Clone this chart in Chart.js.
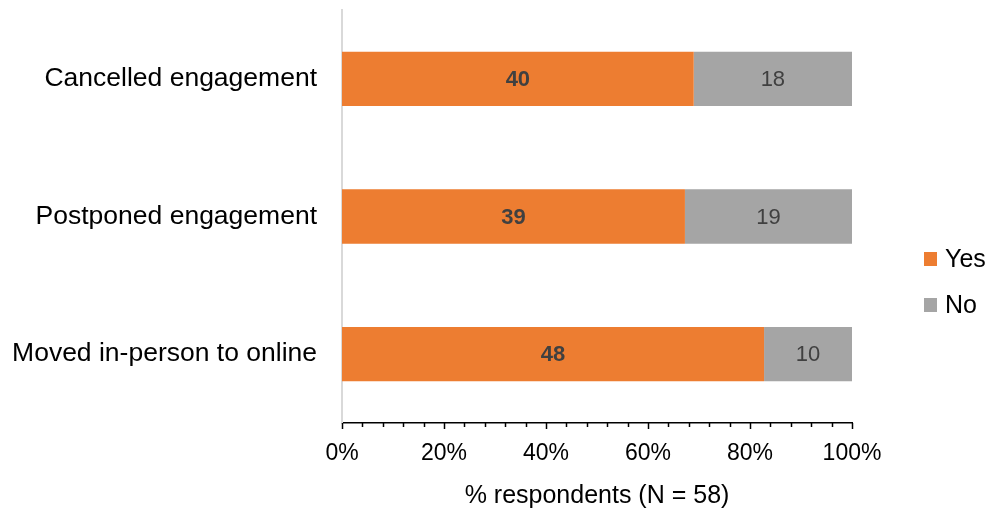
<!DOCTYPE html>
<html>
<head>
<meta charset="utf-8">
<script src="https://cdn.jsdelivr.net/npm/chart.js@4/dist/chart.umd.min.js"></script>
<style>
  html, body { margin: 0; padding: 0; background: #ffffff; }
  #wrap { width: 992px; height: 511px; position: relative; }
</style>
</head>
<body>
<div id="wrap"><canvas id="c" width="992" height="511"></canvas></div>
<script>
// ---- Data ----
const categories = ["Cancelled engagement", "Postponed engagement", "Moved in-person to online"];
const yesCounts = [40, 39, 48];
const noCounts = [18, 19, 10];
const totalN = 58;
const seriesNames = ["Yes", "No"];
const seriesColors = ["#ED7D31", "#A5A5A5"];
const axisTitle = "% respondents (N = 58)";

const toPct = arr => arr.map(v => v / totalN * 100);

const FONT = "'Liberation Sans', Arial, Helvetica, sans-serif";

const labelPlugin = {
  id: 'barLabels',
  afterDatasetsDraw(chart) {
    const ctx = chart.ctx;
    ctx.save();
    ctx.textAlign = 'center';
    ctx.textBaseline = 'middle';
    ctx.fillStyle = '#404040';
    chart.data.datasets.forEach((ds, di) => {
      const meta = chart.getDatasetMeta(di);
      ctx.font = (di === 0 ? 'bold ' : '') + '22px ' + FONT;
      meta.data.forEach((el, i) => {
        const cx = (el.x + el.base) / 2;
        ctx.fillText(String(ds.counts[i]), cx, el.y + 1);
      });
    });
    ctx.restore();
  }
};

const ticksPlugin = {
  id: 'axisTicks',
  afterDraw(chart) {
    const xs = chart.scales.x;
    const ctx = chart.ctx;
    const y0 = chart.chartArea.bottom;
    ctx.save();
    ctx.strokeStyle = '#000000';
    ctx.lineWidth = 1.5;
    for (let v = 0; v <= 100; v += 4) {
      const px = Math.round(xs.getPixelForValue(v)) + 0.5;
      const len = (v % 20 === 0) ? 6 : 4;
      ctx.beginPath();
      ctx.moveTo(px, y0);
      ctx.lineTo(px, y0 + len);
      ctx.stroke();
    }
    ctx.restore();
  }
};

const legendPlugin = {
  id: 'sideLegend',
  afterDraw(chart) {
    const ctx = chart.ctx;
    ctx.save();
    ctx.font = '25px ' + FONT;
    ctx.textBaseline = 'middle';
    ctx.textAlign = 'left';
    const ys = [259, 305];
    chart.data.datasets.forEach((ds, i) => {
      ctx.fillStyle = ds.backgroundColor;
      ctx.fillRect(924, ys[i] - 7, 13, 14);
      ctx.fillStyle = '#000000';
      ctx.fillText(ds.label, 945, ys[i] + 1);
    });
    ctx.restore();
  }
};

new Chart(document.getElementById('c'), {
  type: 'bar',
  data: {
    labels: categories,
    datasets: [
      { label: seriesNames[0], data: toPct(yesCounts), counts: yesCounts, backgroundColor: seriesColors[0] },
      { label: seriesNames[1], data: toPct(noCounts), counts: noCounts, backgroundColor: seriesColors[1] }
    ]
  },
  options: {
    indexAxis: 'y',
    responsive: false,
    animation: false,
    layout: { padding: { top: 10, right: 140, bottom: 0, left: 0 } },
    datasets: { bar: { categoryPercentage: 1.0, barPercentage: 0.395 } },
    plugins: { legend: { display: false }, tooltip: { enabled: false } },
    scales: {
      x: {
        stacked: true,
        min: 0, max: 100,
        grid: { display: false },
        border: { display: true, color: '#000000', width: 1.5 },
        ticks: {
          stepSize: 20,
          padding: 9,
          color: '#000000',
          font: { family: FONT, size: 23 },
          callback: v => v + '%'
        },
        title: {
          display: true,
          text: axisTitle,
          color: '#000000',
          font: { family: FONT, size: 25 },
          padding: { top: 8, bottom: 0 }
        },
        afterFit: s => { s.height = 88; }
      },
      y: {
        stacked: true,
        grid: { display: false },
        border: { display: true, color: '#D9D9D9', width: 2 },
        ticks: {
          padding: 17,
          color: '#000000',
          font: { family: FONT, size: 26.5 }
        },
        afterFit: s => { s.width = 342; s.paddingTop = 0; s.paddingBottom = 0; }
      }
    }
  },
  plugins: [labelPlugin, ticksPlugin, legendPlugin]
});
</script>
</body>
</html>
